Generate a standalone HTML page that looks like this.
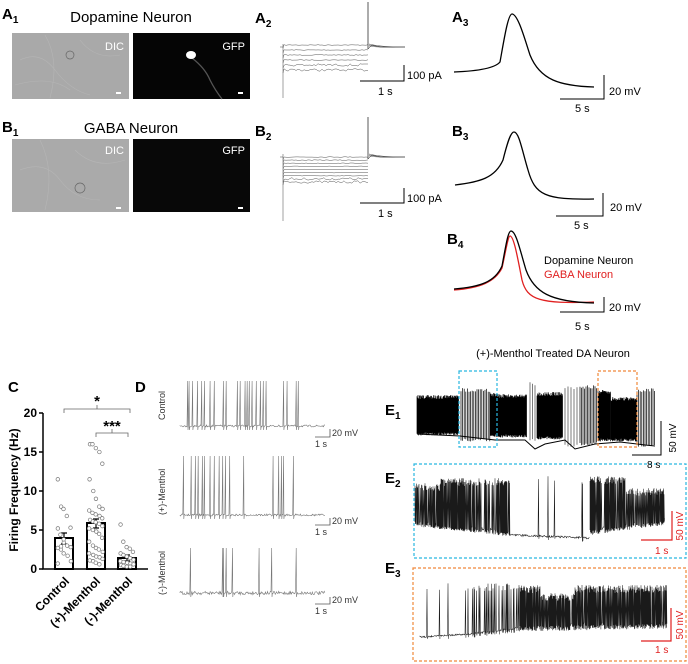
<!DOCTYPE html>
<html><head><meta charset="utf-8"><style>
html,body{margin:0;padding:0;background:#fff}
svg{display:block}
text{font-family:"Liberation Sans",Arial,sans-serif}
.b{font-weight:bold}
</style></head><body>
<svg id="s" width="688" height="664" viewBox="0 0 688 664" xmlns="http://www.w3.org/2000/svg">
<!-- A1 -->
<text x="2" y="19" class="b" font-size="15">A<tspan font-size="10" dy="4">1</tspan></text>
<text x="131" y="22" font-size="15" text-anchor="middle">Dopamine Neuron</text>
<rect x="12" y="33" width="117" height="66" fill="#a9a9a9"/>
<g stroke="#bdbdbd" stroke-width="0.6" fill="none" opacity="0.6">
<path d="M20 60 Q40 50 55 70 T90 95"/><path d="M45 35 Q60 60 50 98"/><path d="M80 40 Q95 60 120 55"/><path d="M15 85 Q50 75 70 90"/></g>
<circle cx="70" cy="55" r="4" stroke="#666" stroke-width="0.7" fill="none"/>
<text x="124" y="50" font-size="11" fill="#fff" text-anchor="end">DIC</text>
<rect x="116" y="92" width="5" height="2" fill="#fff"/>
<rect x="133" y="33" width="117" height="66" fill="#050505"/>
<path d="M192 58 Q205 68 210 80 Q215 90 222 99" stroke="#555" stroke-width="1.3" fill="none"/>
<ellipse cx="191" cy="55" rx="5" ry="4" fill="#fff"/>
<text x="245" y="50" font-size="11" fill="#fff" text-anchor="end">GFP</text>
<rect x="238" y="92" width="5" height="2" fill="#fff"/>
<!-- B1 -->
<text x="2" y="132" class="b" font-size="15">B<tspan font-size="10" dy="4">1</tspan></text>
<text x="131" y="133" font-size="15" text-anchor="middle">GABA Neuron</text>
<rect x="12" y="139" width="117" height="73" fill="#aaaaaa"/>
<g stroke="#bdbdbd" stroke-width="0.6" fill="none" opacity="0.6">
<path d="M20 170 Q45 160 60 180 T100 200"/><path d="M40 140 Q55 170 45 210"/><path d="M75 150 Q95 170 125 160"/></g>
<circle cx="80" cy="188" r="5" stroke="#666" stroke-width="0.7" fill="none"/>
<text x="124" y="154" font-size="11" fill="#fff" text-anchor="end">DIC</text>
<rect x="116" y="207" width="5" height="2" fill="#fff"/>
<rect x="133" y="139" width="117" height="73" fill="#080808"/>
<text x="245" y="154" font-size="11" fill="#fff" text-anchor="end">GFP</text>
<rect x="238" y="207" width="5" height="2" fill="#fff"/>
<!-- A2 B2 -->
<text x="255" y="23" class="b" font-size="15">A<tspan font-size="10" dy="4">2</tspan></text>
<text x="255" y="136" class="b" font-size="15">B<tspan font-size="10" dy="4">2</tspan></text>
<g id="ab2" stroke="#555" stroke-width="0.5" fill="none"></g>
<g stroke="#000" stroke-width="1" fill="none">
<path d="M404 65 V81 H360"/><path d="M404 188 V203 H360"/>
<path d="M604 75 V99 H560"/><path d="M603 193 V216 H556"/><path d="M604 297 V312 H560"/>
</g>
<text x="407" y="79" font-size="11">100 pA</text><text x="378" y="95" font-size="11">1 s</text>
<text x="407" y="202" font-size="11">100 pA</text><text x="378" y="217" font-size="11">1 s</text>
<!-- A3 B3 B4 -->
<text x="452" y="22" class="b" font-size="15">A<tspan font-size="10" dy="4">3</tspan></text>
<text x="452" y="136" class="b" font-size="15">B<tspan font-size="10" dy="4">3</tspan></text>
<text x="447" y="244" class="b" font-size="15">B<tspan font-size="10" dy="4">4</tspan></text>
<g fill="none" stroke-width="1.3">
<path stroke="#000" d="M454 72 C480 71 495 68 500 62 C504 40 508 14 512 14 C518 14 525 40 530 55 C540 80 560 86 594 87"/>
<path stroke="#000" d="M455 185 C480 182 495 178 503 160 C508 140 511 132 514 132 C519 132 522 150 528 170 C535 195 545 200 594 199"/>
<path stroke="#e02020" d="M454 290 C480 288 495 282 502 268 C506 250 508 236 510 236 C514 236 518 260 522 280 C527 300 540 304 594 302"/>
<path stroke="#000" d="M454 289 C480 287 495 282 502 266 C506 245 508 231 511 231 C516 231 520 250 526 270 C534 292 550 302 594 303"/>
</g>
<text x="609" y="95" font-size="11">20 mV</text><text x="575" y="112" font-size="11">5 s</text>
<text x="610" y="211" font-size="11">20 mV</text><text x="574" y="229" font-size="11">5 s</text>
<text x="544" y="264" font-size="11">Dopamine Neuron</text>
<text x="544" y="278" font-size="11" fill="#e02020">GABA Neuron</text>
<text x="609" y="311" font-size="11">20 mV</text><text x="575" y="330" font-size="11">5 s</text>
<text x="553" y="357" font-size="11" text-anchor="middle">(+)-Menthol Treated DA Neuron</text>
<!-- C -->
<text x="8" y="392" class="b" font-size="15">C</text>
<text transform="translate(18,490) rotate(-90)" class="b" font-size="12" text-anchor="middle">Firing Frequency (Hz)</text>
<g stroke="#000" stroke-width="1.5" fill="none">
<path d="M43 413 V569 H148"/>
<path d="M39 413 H43 M39 452 H43 M39 491 H43 M39 530 H43 M39 569 H43"/>
<rect x="55" y="538" width="18" height="31" stroke-width="2"/>
<rect x="87" y="523" width="18" height="46" stroke-width="2"/>
<rect x="118" y="558" width="18" height="11" stroke-width="2"/>
<path d="M64 533 V544 M61 533 H67 M61 544 H67 M96 519 V528 M93 519H99 M93 528H99 M127 555 V561 M124 555H130M124 561H130" stroke-width="1.2"/>
</g>
<g class="b" font-size="12" text-anchor="end"><text x="37" y="417">20</text><text x="37" y="456">15</text><text x="37" y="495">10</text><text x="37" y="534">5</text><text x="37" y="573">0</text></g>
<g stroke="#666" stroke-width="0.8" fill="none"><path d="M64 413 V409 H130 V413 M97 409 V405"/><path d="M96 437 V433 H128 V437 M112 433 V429"/></g>
<text x="97" y="406" class="b" font-size="15" text-anchor="middle">*</text>
<text x="112" y="431" class="b" font-size="15" text-anchor="middle">***</text>
<g class="b" font-size="12" text-anchor="end">
<text transform="translate(70,582) rotate(-45)">Control</text>
<text transform="translate(101,582) rotate(-45)">(+)-Menthol</text>
<text transform="translate(133,582) rotate(-45)">(-)-Menthol</text>
</g>
<g id="dots" fill="#fff" stroke="#777" stroke-width="0.7"></g>
<!-- D -->
<text x="135" y="392" class="b" font-size="15">D</text>
<g font-size="9" fill="#333">
<text transform="translate(165,420) rotate(-90)">Control</text>
<text transform="translate(165,515) rotate(-90)">(+)-Menthol</text>
<text transform="translate(165,595) rotate(-90)">(-)-Menthol</text>
</g>
<g id="dtr" stroke="#777" stroke-width="0.6" fill="none"></g>
<g stroke="#555" stroke-width="0.8" fill="none">
<path d="M330 429 V437 H315"/><path d="M330 518 V525 H315"/><path d="M330 597 V604 H315"/>
</g>
<g font-size="9" fill="#333"><text x="332" y="436">20 mV</text><text x="315" y="447">1 s</text>
<text x="332" y="524">20 mV</text><text x="315" y="535">1 s</text>
<text x="332" y="603">20 mV</text><text x="315" y="614">1 s</text></g>
<!-- E -->
<text x="385" y="415" class="b" font-size="15">E<tspan font-size="10" dy="4">1</tspan></text>
<text x="385" y="483" class="b" font-size="15">E<tspan font-size="10" dy="4">2</tspan></text>
<text x="385" y="573" class="b" font-size="15">E<tspan font-size="10" dy="4">3</tspan></text>
<g id="etr" fill="none"></g>
<rect x="459" y="371" width="38" height="76" fill="none" stroke="#29b6e0" stroke-width="1.2" stroke-dasharray="3,2"/>
<rect x="598" y="371" width="39" height="76" fill="none" stroke="#f0883a" stroke-width="1.2" stroke-dasharray="3,2"/>
<rect x="414" y="464" width="272" height="94" fill="none" stroke="#29b6e0" stroke-width="1.2" stroke-dasharray="3,2"/>
<rect x="413" y="568" width="273" height="93" fill="none" stroke="#f0883a" stroke-width="1.2" stroke-dasharray="3,2"/>
<path d="M661 421 V455 H632" stroke="#000" stroke-width="1" fill="none"/>
<text transform="translate(676,438) rotate(-90)" font-size="10" text-anchor="middle">50 mV</text>
<text x="647" y="468" font-size="10">8 s</text>
<g stroke="#e02020" stroke-width="1.2" fill="none"><path d="M672 511 V540 H641"/><path d="M671 608 V641 H641"/></g>
<g fill="#e02020" font-size="10">
<text transform="translate(683,526) rotate(-90)" text-anchor="middle">50 mV</text><text x="655" y="554">1 s</text>
<text transform="translate(683,625) rotate(-90)" text-anchor="middle">50 mV</text><text x="655" y="653">1 s</text>
</g>
</svg>
<script>
var seed=7;function r(){seed=(seed*16807)%2147483647;return (seed-1)/2147483646;}
var NS="http://www.w3.org/2000/svg";
function P(g,d,a){var p=document.createElementNS(NS,"path");p.setAttribute("d",d);if(a)for(var k in a)p.setAttribute(k,a[k]);document.getElementById(g).appendChild(p);}
// A2/B2
function step(base,y0,y1,n,topSpike,stimBot){
 var d="M280 "+base+" H283 M283 "+(base-3)+" V"+stimBot;P("ab2",d,{stroke:"#444"});
 for(var i=0;i<n;i++){var y=y0+(y1-y0)*i/(n-1);var s="M283 "+(y+3);for(var x=284;x<=368;x+=2)s+=" L"+x+" "+(y+(r()-0.5)*(i>n-3?2.5:0.6)).toFixed(1);P("ab2",s);}
 P("ab2","M368 "+(base+2)+" V"+topSpike+" V"+(base+2)+" L372 "+(base-2)+" L380 "+base+" H405",{stroke:"#222"});
 for(var i=0;i<3;i++)P("ab2","M369 "+(base-3+i)+" Q380 "+(base+i*0.5)+" 405 "+base);
}
step(47,45,70,6,2,98);step(157,157,182,9,117,221);
// dots
var dd=[[64,[11.5,8,7.7,6.8,5.3,5.2,4.4,3.4,3,2.8,2.7,2.5,2,1.7,1,0.7,2.9,3.8]],[96,[16,16,15.5,15,13.5,11.5,10,9,8,7.7,7.5,7.2,7,6.8,6.5,6.3,6.1,6,5.8,5.5,5.2,5,4.8,4.5,4,3.5,3,2.7,2.5,2.2,2,1.8,1.6,1.5,1.3,1.1,1,0.8,0.6]],[127,[5.7,3.5,2.8,2.6,2.2,2,1.8,1.6,1.4,1.2,1,0.9,0.8,0.7,0.6,0.5,0.4,0.3,0.3]]];
dd.forEach(function(g){g[1].forEach(function(v,i){var c=document.createElementNS(NS,"circle");c.setAttribute("cx",g[0]+((i%5)-2)*3.2+(r()-0.5));c.setAttribute("cy",569-v*7.8);c.setAttribute("r",1.8);document.getElementById("dots").appendChild(c);});});
// D traces
function dtr(base,top,sp,amp){var s="M180 "+base;var j=0;sp.sort(function(a,b){return a-b;});for(var x=180;x<=325;x+=0.7){
 if(j<sp.length&&x>=sp[j]){s+=" L"+x.toFixed(1)+" "+top+" L"+(x+0.3).toFixed(1)+" "+(base+4);j++;}else s+=" L"+x.toFixed(1)+" "+(base+(r()-0.5)*amp).toFixed(1);}P("dtr",s);}
dtr(426,381,[187,189,192,197,201,204,210,214,223,226,237,240,245,247,249,252,256,260,263,266,283,287,296,298],2);
dtr(515,456,[183,191,195,198,202,204,210,214,219,222,225,229,243,273,278,281,283,293],2);
dtr(593,548,[190,222,223,226,232,259,271,296],3.5);
// E1
function band(x0,x1,top,bot,step,col){var s="";for(var x=x0;x<x1;x+=step){s+="M"+x.toFixed(1)+" "+(bot+(r()-0.5)*3).toFixed(1)+" V"+(top+r()*4).toFixed(1);}P("etr",s,{stroke:col||"#000","stroke-width":0.7});}
band(417,459,395,434,0.5);band(461,490,388,440,1.6);band(490,498,393,436,0.6);band(498,527,394,436,0.5);
band(530,537,382,440,2.5,"#444");band(537,563,392,438,0.5);band(565,580,386,446,3,"#444");band(580,598,385,444,1.5);
band(598,611,390,440,0.5);band(611,637,397,440,0.45);band(637,655,388,446,1.6);
P("etr","M417 434 L460 436 L495 440 L525 440 L535 449 L545 444 L565 440 L575 449 L595 444 L620 442 L645 445 L655 446",{stroke:"#000","stroke-width":1});
// E2/E3 spikes
function spikes(x0,x1,base0,base1,top,dens,noise){var s="M"+x0+" "+base0;var x=x0;while(x<x1){var t=(x-x0)/(x1-x0);var b=base0+(base1-base0)*t+(r()-0.5)*noise;
 if(r()<dens(x)){s+=" L"+x.toFixed(1)+" "+(top(x)+r()*8).toFixed(1)+" L"+(x+0.4).toFixed(1)+" "+(b+3).toFixed(1);}else s+=" L"+x.toFixed(1)+" "+b.toFixed(1);x+=0.5;}P("etr",s,{stroke:"#1a1a1a","stroke-width":0.55});}
spikes(415,510,522,532,function(x){return 478+(x<440?5:0);},function(x){return 0.75;},3);
spikes(510,590,535,538,function(){return 476;},function(x){return 0.025;},2);
spikes(590,665,530,520,function(x){return 476+(x>625?12:0);},function(x){return 0.8;},4);
spikes(420,470,637,634,function(){return 583;},function(x){return x<425?0.02:0.07;},1.5);
spikes(470,520,634,628,function(x){return 583;},function(){return 0.35;},2);
spikes(520,667,626,623,function(x){return 585+(x>540&&x<575?8:0);},function(){return 0.85;},5);
</script>
</body></html>
